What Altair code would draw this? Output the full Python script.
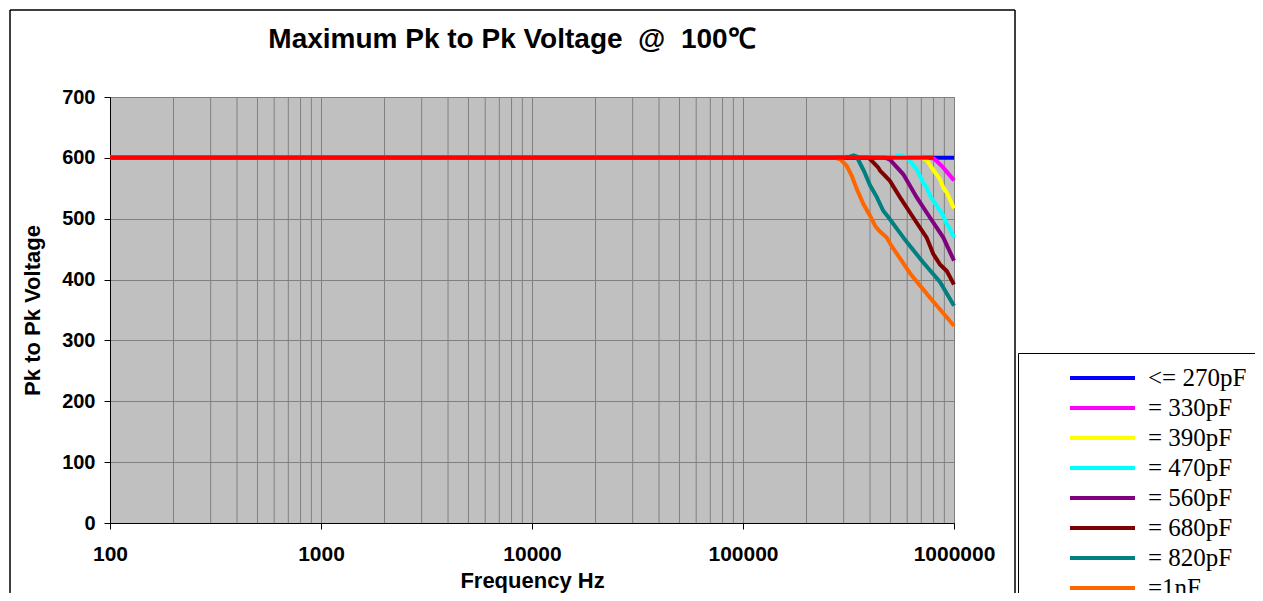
import altair as alt
import pandas as pd

# ---------------- data ----------------
labels = ["<= 270pF", "= 330pF", "= 390pF", "= 470pF", "= 560pF", " = 680pF", "= 820pF", "=1nF"]
colors = ["#0000FF", "#FF00FF", "#FFFF00", "#00FFFF", "#800080", "#800000", "#008080", "#FF6600"]
widths = [4, 4, 4, 3, 3, 3, 3, 3]

f270 = [100, 1000000]
v270 = [600, 600]
f330 = [100, 780000, 810000, 890000, 1000000]
v330 = [600, 600, 598, 584, 563]
f390 = [100, 705000, 740000, 798000, 858000, 890000, 924000, 1000000]
v390 = [600, 600, 597, 580, 565, 551, 543, 517]
f470 = [100, 515000, 535000, 565000, 597000, 619000, 666000, 715000, 742000, 769000, 828000, 890000, 924000, 940000, 1000000]
v470 = [600, 600, 603, 604, 600, 595, 581, 559, 551, 538, 521, 505, 491, 488, 469]
f560 = [100, 475000, 497000, 575000, 666000, 769000, 890000, 1000000]
v560 = [600, 600, 597, 573, 535, 502, 469, 431]
f680 = [100, 392000, 400000, 438000, 446000, 488000, 497000, 555000, 641000, 742000, 798000, 858000, 924000, 1000000]
v680 = [600, 600, 598, 584, 579, 565, 562, 535, 502, 469, 442, 425, 414, 392]
f820 = [100, 300000, 320000, 335000, 346000, 355000, 375000, 400000, 430000, 462000, 490000, 590000, 715000, 858000, 1000000]
v820 = [600, 600, 602, 604, 602, 594, 578, 555, 536, 513, 502, 464, 428, 396, 357]
f1n = [100, 275000, 290000, 310000, 328000, 346000, 372000, 400000, 425000, 446000, 480000, 500000, 620000, 770000, 1000000]
v1n = [600, 600, 597, 587, 570, 549, 524, 505, 487, 479, 469, 458, 410, 370, 324]

f_red = [100, 800000]
v_red = [600, 600]

x_ticks = [100, 1000, 10000, 100000, 1000000]
x_minor = [m * d for d in [100, 1000, 10000, 100000] for m in range(2, 10)]
y_ticks = [0, 100, 200, 300, 400, 500, 600, 700]

# ---------------- tables ----------------
series_f = [f270, f330, f390, f470, f560, f680, f820, f1n]
series_v = [v270, v330, v390, v470, v560, v680, v820, v1n]
rows = []
for lab, fs, vs in zip(labels, series_f, series_v):
    for f, v in zip(fs, vs):
        rows.append({"series": lab, "freq": f, "volt": v})
df = pd.DataFrame(rows)
df_red = pd.DataFrame({"freq": f_red, "volt": v_red})
df_minor = pd.DataFrame({"freq": x_minor})

FONT = "Liberation Sans"

x_enc = alt.X("freq:Q",
              scale=alt.Scale(type="log", domain=[100, 1000000], nice=False),
              axis=alt.Axis(values=x_ticks, format="d", title="Frequency Hz",
                            grid=True, labelPadding=14, titlePadding=6,
                            labelFontSize=21, labelFlush=False))
y_enc = alt.Y("volt:Q",
              scale=alt.Scale(domain=[0, 700], nice=False),
              axis=alt.Axis(values=y_ticks, title="Pk to Pk Voltage", grid=True,
                            labelPadding=9, titlePadding=17))

minor = alt.Chart(df_minor).mark_rule(color="#808080", strokeWidth=1).encode(x=x_enc)

legend_opts = dict(title=None, orient="none", legendX=908, legendY=256,
                   symbolType="stroke", symbolSize=4225,
                   clipHeight=22, rowPadding=5,
                   padding=14, symbolOffset=36, labelOffset=11,
                   labelFont="Liberation Serif", labelFontSize=25,
                   labelColor="black", labelLimit=400,
                   strokeColor="black", fillColor="white")

lines = alt.Chart(df).mark_line(strokeCap="butt").encode(
    x=x_enc,
    y=y_enc,
    color=alt.Color("series:N",
                    scale=alt.Scale(domain=labels, range=colors),
                    sort=labels,
                    legend=alt.Legend(**legend_opts)),
    strokeWidth=alt.StrokeWidth("series:N",
                                scale=alt.Scale(domain=labels, range=widths),
                                sort=labels,
                                legend=alt.Legend(**legend_opts)),
    detail="series:N",
)

red = alt.Chart(df_red).mark_line(color="#FF0000", strokeWidth=4, strokeCap="butt").encode(
    x=x_enc, y=y_enc)

frame = alt.Chart(df_red).mark_rect(fillOpacity=0, stroke="black", strokeWidth=1).encode(
    x=alt.value(-100), x2=alt.value(905), y=alt.value(-87), y2=alt.value(700))

chart = alt.layer(minor, lines, red, frame).properties(
    width=844, height=426,
    title=alt.TitleParams("Maximum Pk to Pk Voltage\u00a0\u00a0@\u00a0\u00a0100℃",
                          font=FONT, fontSize=28, fontWeight="bold", color="black",
                          anchor="middle", dx=-20, offset=0, dy=44),
    padding={"left": 102, "top": 89, "right": 301, "bottom": 70},
    autosize=alt.AutoSizeParams(type="none"),
    background="white",
).configure_view(
    fill="#C0C0C0", stroke="#808080", strokeWidth=1
).configure_axis(
    labelFont=FONT, labelFontWeight="bold", labelFontSize=20, labelColor="black",
    titleFont=FONT, titleFontWeight="bold", titleFontSize=22, titleColor="black",
    domainColor="black", domainWidth=1, tickColor="black", tickSize=6, tickWidth=1,
    gridColor="#808080", gridOpacity=1, gridWidth=1,
)

chart.save("out.html", embed_options={"renderer": "svg", "actions": False})
